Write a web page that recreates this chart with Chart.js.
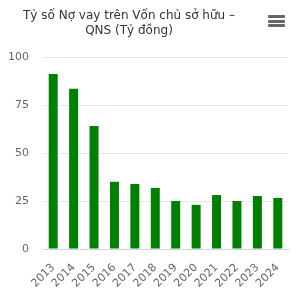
<!DOCTYPE html>
<html>
<head>
<meta charset="utf-8">
<script src="https://cdn.jsdelivr.net/npm/chart.js@4/dist/chart.umd.min.js"></script>
<style>
  html, body { margin: 0; padding: 0; background: #fff; }
  #wrap { position: relative; width: 298px; height: 300px; }
  #title {
    position: absolute; left: 0; top: 8px; width: 258px;
    text-align: center; font: 12px "DejaVu Sans", sans-serif; color: #333; line-height: 15px;
  }
  #menu { position: absolute; left: 268px; top: 15px; width: 17px; }
  #menu div { height: 3px; background: #666; margin-bottom: 1.5px; border-radius: 1px; }
</style>
</head>
<body>
<div id="wrap">
  <canvas id="c" width="298" height="300"></canvas>
  <div id="title">Tỷ số Nợ vay trên Vốn chủ sở hữu –<br>QNS (Tỷ đồng)</div>
  <div id="menu"><div></div><div></div><div></div></div>
</div>
<script>
// ── dữ liệu ─────────────────────────────
const nam     = ['2013','2014','2015','2016','2017','2018','2019','2020','2021','2022','2023','2024'];
const tyLe    = [91.2, 83.4, 64.1, 35.0, 33.9, 31.8, 25.0, 23.0, 28.1, 25.0, 27.6, 26.6];
const yTicks  = [0, 25, 50, 75, 100];

const tickFont = { family: 'DejaVu Sans', size: 11 };

new Chart(document.getElementById('c'), {
  type: 'bar',
  data: {
    labels: nam,
    datasets: [{
      data: tyLe,
      backgroundColor: '#008000',
      categoryPercentage: 1,
      barPercentage: 0.44
    }]
  },
  options: {
    responsive: false,
    animation: false,
    layout: { padding: { top: 57, right: 10, left: 0, bottom: 0 } },
    plugins: { legend: { display: false }, tooltip: { enabled: false } },
    scales: {
      x: {
        grid: { display: false },
        border: { color: '#ccd6eb' },
        ticks: { color: '#666', font: tickFont, minRotation: 45, maxRotation: 45, autoSkip: false, padding: 4 },
        afterFit: s => { s.height = 51; }
      },
      y: {
        min: 0, max: 100,
        afterBuildTicks: s => { s.ticks = yTicks.map(v => ({ value: v })); },
        grid: { color: '#e6e6e6', drawTicks: false },
        border: { display: false },
        ticks: { color: '#666', font: tickFont, padding: 14 },
        afterFit: s => { s.width = 43; }
      }
    }
  }
});
</script>
</body>
</html>
